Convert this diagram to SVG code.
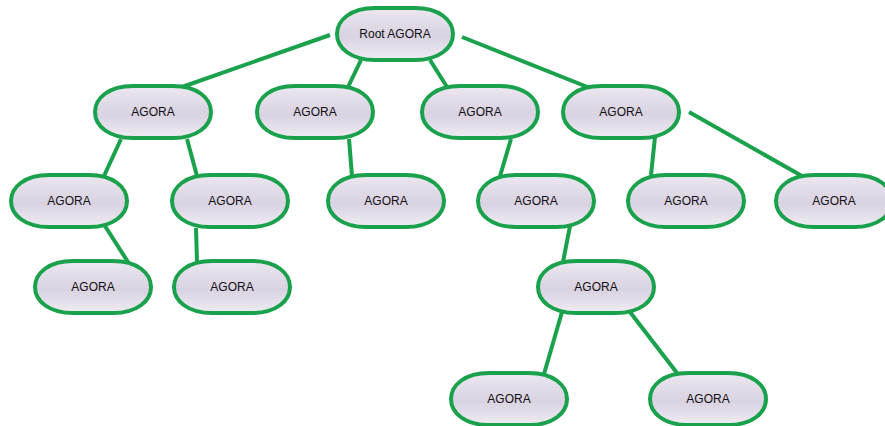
<svg xmlns="http://www.w3.org/2000/svg" xmlns:xlink="http://www.w3.org/1999/xlink" width="885" height="426" viewBox="0 0 885 426">
  <defs>
    <linearGradient id="fillGrad" x1="0" y1="0" x2="0" y2="1">
      <stop offset="0" stop-color="#ebe7ef"/>
      <stop offset="0.55" stop-color="#d9d2e2"/>
      <stop offset="1" stop-color="#efecf2"/>
    </linearGradient>
    <!-- node outline: flattened oval centred on 0,0 -->
    <path id="oval" d="M -20,-26 L 20,-26 C 44,-26 58,-14 58,0 C 58,14 44,26 20,26 L -20,26 C -44,26 -58,14 -58,0 C -58,-14 -44,-26 -20,-26 Z"/>
  </defs>
  <style>
    .node use { fill: url(#fillGrad); stroke: #1aa14c; stroke-width: 4; }
    .node text { font-family: "Liberation Sans", Arial, sans-serif; font-size: 12px; fill: #111; text-anchor: middle; dominant-baseline: central; }
    .edges line { stroke: #1aa14c; stroke-width: 4; stroke-linecap: butt; }
  </style>
  <rect width="885" height="426" fill="#ffffff"/>

  <g id="connectors" class="edges">
    <line x1="330" y1="35" x2="182" y2="87"/>
    <line x1="361" y1="60" x2="348" y2="87"/>
    <line x1="430" y1="60" x2="447" y2="87"/>
    <line x1="462" y1="37" x2="590" y2="88"/>
    <line x1="121" y1="139" x2="104" y2="176"/>
    <line x1="187" y1="139" x2="197" y2="176"/>
    <line x1="349" y1="139" x2="352" y2="176"/>
    <line x1="511" y1="139" x2="500" y2="176"/>
    <line x1="655" y1="137" x2="651" y2="175"/>
    <line x1="689" y1="112" x2="802" y2="176"/>
    <line x1="105" y1="226" x2="128" y2="262"/>
    <line x1="196" y1="228" x2="197" y2="262"/>
    <line x1="570" y1="226" x2="563" y2="262"/>
    <line x1="562" y1="312" x2="544" y2="374"/>
    <line x1="630" y1="312" x2="677" y2="373"/>
  </g>

  <g id="root" class="node" transform="translate(395,34)"><use xlink:href="#oval" href="#oval"/><text>Root AGORA</text></g>

  <g id="n1" class="node" transform="translate(153,112)"><use xlink:href="#oval" href="#oval"/><text>AGORA</text></g>
  <g id="n2" class="node" transform="translate(315,112)"><use xlink:href="#oval" href="#oval"/><text>AGORA</text></g>
  <g id="n3" class="node" transform="translate(480,112)"><use xlink:href="#oval" href="#oval"/><text>AGORA</text></g>
  <g id="n4" class="node" transform="translate(621,112)"><use xlink:href="#oval" href="#oval"/><text>AGORA</text></g>

  <g id="n1a" class="node" transform="translate(69,201)"><use xlink:href="#oval" href="#oval"/><text>AGORA</text></g>
  <g id="n1b" class="node" transform="translate(230,201)"><use xlink:href="#oval" href="#oval"/><text>AGORA</text></g>
  <g id="n2a" class="node" transform="translate(386,201)"><use xlink:href="#oval" href="#oval"/><text>AGORA</text></g>
  <g id="n3a" class="node" transform="translate(536,201)"><use xlink:href="#oval" href="#oval"/><text>AGORA</text></g>
  <g id="n4a" class="node" transform="translate(686,201)"><use xlink:href="#oval" href="#oval"/><text>AGORA</text></g>
  <g id="n4b" class="node" transform="translate(834,201)"><use xlink:href="#oval" href="#oval"/><text>AGORA</text></g>

  <g id="n1a1" class="node" transform="translate(93,287)"><use xlink:href="#oval" href="#oval"/><text>AGORA</text></g>
  <g id="n1b1" class="node" transform="translate(232,287)"><use xlink:href="#oval" href="#oval"/><text>AGORA</text></g>
  <g id="n3a1" class="node" transform="translate(596,287)"><use xlink:href="#oval" href="#oval"/><text>AGORA</text></g>

  <g id="n3a1a" class="node" transform="translate(509,399)"><use xlink:href="#oval" href="#oval"/><text>AGORA</text></g>
  <g id="n3a1b" class="node" transform="translate(708,399)"><use xlink:href="#oval" href="#oval"/><text>AGORA</text></g>
</svg>
